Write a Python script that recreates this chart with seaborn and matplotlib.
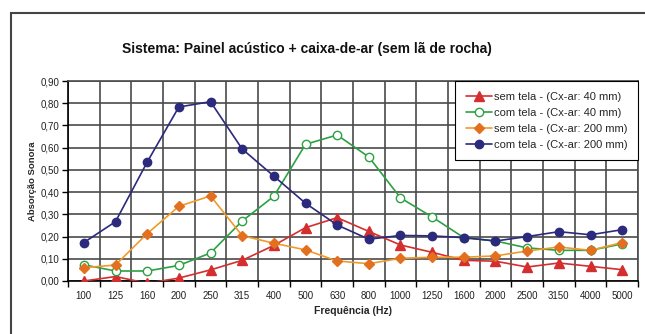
import matplotlib
matplotlib.use("Agg")
import matplotlib.pyplot as plt
from matplotlib.patches import Rectangle
from matplotlib.ticker import FixedLocator, FuncFormatter
import numpy as np
import pandas as pd
import seaborn as sns

# Third-octave band centre frequencies (Hz)
freqs = ["100", "125", "160", "200", "250", "315", "400", "500", "630", "800",
         "1000", "1250", "1600", "2000", "2500", "3150", "4000", "5000"]

# Sound absorption coefficients per configuration
sem_tela_40 = [0.00, 0.02, -0.01, 0.013, 0.05, 0.093, 0.16, 0.24, 0.285, 0.223,
               0.162, 0.129, 0.093, 0.089, 0.063, 0.081, 0.066, 0.051]
com_tela_40 = [0.073, 0.045, 0.045, 0.07, 0.126, 0.27, 0.381, 0.615, 0.657, 0.558,
               0.374, 0.288, 0.195, 0.18, 0.149, 0.138, 0.138, 0.167]
sem_tela_200 = [0.06, 0.072, 0.213, 0.336, 0.383, 0.204, 0.17, 0.14, 0.09, 0.078,
                0.102, 0.107, 0.107, 0.113, 0.135, 0.153, 0.138, 0.173]
com_tela_200 = [0.173, 0.267, 0.535, 0.783, 0.807, 0.594, 0.472, 0.35, 0.252, 0.188,
                0.205, 0.203, 0.195, 0.18, 0.20, 0.222, 0.208, 0.231]

series_names = ["sem tela - (Cx-ar: 40 mm)", "com tela - (Cx-ar: 40 mm)",
                "sem tela - (Cx-ar: 200 mm)", "com tela - (Cx-ar: 200 mm)"]
series_values = [sem_tela_40, com_tela_40, sem_tela_200, com_tela_200]

styles = {
    series_names[0]: dict(color="#D42E2E", marker="^", mfc="#D42E2E", mec="#D42E2E", ms=6.5),
    series_names[1]: dict(color="#2EA043", marker="o", mfc="white", mec="#2EA043", ms=6),
    series_names[2]: dict(color="#F09A2A", marker="D", mfc="#E2701E", mec="#E2701E", ms=4.8),
    series_names[3]: dict(color="#2B2A7C", marker="o", mfc="#2B2A7C", mec="#2B2A7C", ms=6),
}

df = pd.DataFrame({
    "idx": np.tile(np.arange(len(freqs)), len(series_names)),
    "valor": np.concatenate(series_values),
    "serie": np.repeat(series_names, len(freqs)),
})

sns.set_style("white")
plt.rcParams["font.family"] = ["Liberation Sans", "DejaVu Sans"]

fig = plt.figure(figsize=(6.45, 3.34), dpi=100)
W, H = 645, 334
ax = fig.add_axes([68 / W, 1 - 281 / H, (638 - 68) / W, (281 - 81) / H])

# Outer chart-area frame
fig.patches.append(Rectangle((11 / W, -0.1), 1.2, 1.1 - 13 / H,
                             transform=fig.transFigure, fill=False,
                             edgecolor="#444444", linewidth=1.5, zorder=0))

for name in series_names:
    st = styles[name]
    sub = df[df["serie"] == name]
    sns.lineplot(data=sub, x="idx", y="valor", ax=ax, color=st["color"],
                 linewidth=1.2, marker=st["marker"], markersize=st["ms"],
                 markerfacecolor=st["mfc"], markeredgecolor=st["mec"],
                 markeredgewidth=1.0, label=name, zorder=3)

ax.set_xlim(-0.5, len(freqs) - 0.5)
ax.set_ylim(0, 0.9)

# Category labels centred in each band, ticks and grid on band boundaries
ax.xaxis.set_major_locator(FixedLocator(np.arange(len(freqs))))
ax.set_xticklabels(freqs)
ax.xaxis.set_minor_locator(FixedLocator(np.arange(-0.5, len(freqs), 1.0)))
ax.tick_params(axis="x", which="major", length=0, pad=7, labelsize=7, colors="#222222")
ax.tick_params(axis="x", which="minor", length=4, width=1.0, direction="out",
               color="black", bottom=True)

yt = np.round(np.arange(0, 0.91, 0.1), 2)
ax.yaxis.set_major_locator(FixedLocator(yt))
ax.yaxis.set_major_formatter(FuncFormatter(lambda v, p: f"{v:.2f}".replace(".", ",")))
ax.tick_params(axis="y", which="major", length=4, width=1.0, direction="out",
               left=True, labelsize=7, colors="#222222", pad=2)
ax.tick_params(axis="y", color="black")

ax.grid(False)
ax.grid(True, axis="y", which="major", color="#4a4a4a", linewidth=1.2, zorder=1)
ax.grid(True, axis="x", which="minor", color="#4a4a4a", linewidth=1.2, zorder=1)
ax.set_axisbelow(True)

for sp in ax.spines.values():
    sp.set_visible(True)
    sp.set_color("black")
    sp.set_linewidth(1.2)
ax.spines["top"].set_color("#4a4a4a")
ax.spines["right"].set_color("#4a4a4a")

ax.set_xlabel("Frequência (Hz)", fontsize=7.5, fontweight="bold", labelpad=4)
ax.set_ylabel("Absorção Sonora", fontsize=6.8, fontweight="bold", labelpad=3)

fig.text(307 / W, 1 - 49 / H, "Sistema: Painel acústico + caixa-de-ar (sem lã de rocha)",
         ha="center", va="center", fontsize=10, fontweight="bold", color="#111111")

leg = ax.legend(loc="upper right", bbox_to_anchor=(1.0, 1.0), borderaxespad=0,
                fontsize=8, frameon=True, fancybox=False, handlelength=2.3,
                handletextpad=0.2, labelspacing=0.55, borderpad=0.95)
leg.get_frame().set_edgecolor("black")
leg.get_frame().set_linewidth(0.8)
leg.get_frame().set_alpha(1)
leg.set_zorder(5)

fig.savefig("out.png", dpi=100)
